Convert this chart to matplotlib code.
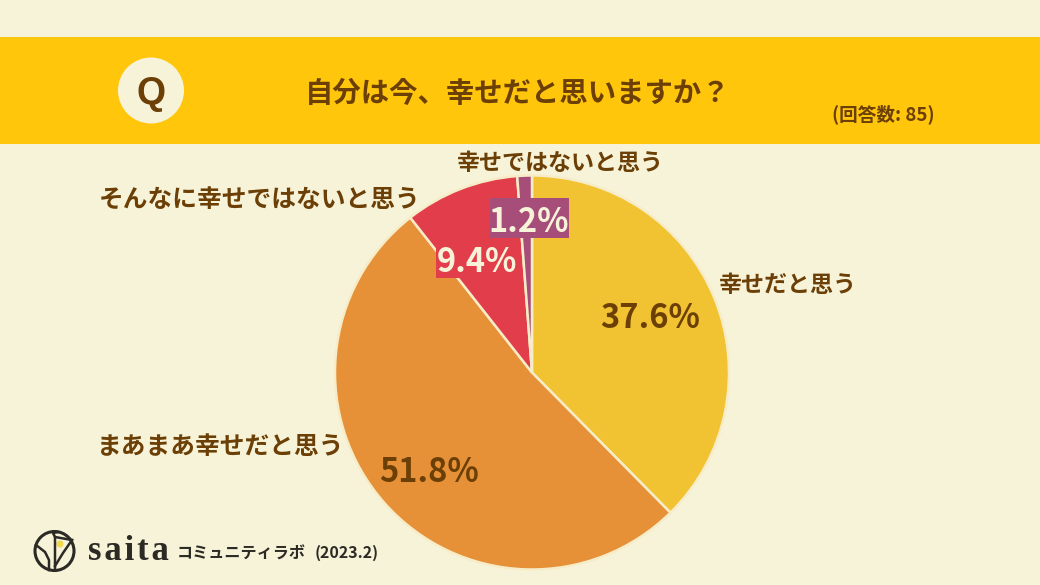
import matplotlib
matplotlib.use("Agg")
import matplotlib.pyplot as plt
from matplotlib.patches import Circle, Rectangle

plt.rcParams['font.family'] = ['Noto Sans CJK JP', 'DejaVu Sans']

# chart data
categories = ["幸せだと思う", "まあまあ幸せだと思う", "そんなに幸せではないと思う", "幸せではないと思う"]
shares = [37.6, 51.8, 9.4, 1.2]
slice_colors = ["#f1c232", "#e69138", "#e23d4a", "#a64d79"]
pct_labels = ["37.6%", "51.8%", "9.4%", "1.2%"]
question = "自分は今、幸せだと思いますか？"
n_answers = "(回答数: 85)"

BG = "#f7f3d9"
BAND = "#ffc60b"
BROWN = "#6b3f06"
DARK = "#2b2a24"

fig = plt.figure(figsize=(10.4, 5.85), dpi=100, facecolor=BG)

# overlay in pixel coordinates
bg = fig.add_axes([0, 0, 1, 1])
bg.set_xlim(0, 1040)
bg.set_ylim(585, 0)
bg.axis("off")
bg.add_patch(Rectangle((0, 37), 1040, 107, fc=BAND, ec="none"))
bg.add_patch(Circle((151, 90.5), 33, fc=BG, ec="none"))
bg.text(151, 94, "Q", ha="center", va="center", fontsize=27, weight="bold",
        color=BROWN, family=["Liberation Sans"])
bg.text(518, 94, question, ha="center", va="center", fontsize=20.4, weight="bold", color=BROWN)
bg.text(883, 114, n_answers, ha="center", va="center", fontsize=13.4, weight="bold", color=BROWN)

# pie
cx, cy, r = 532, 372.5, 197
pie_ax = fig.add_axes([(cx - r) / 1040, 1 - (cy + r) / 585, 2 * r / 1040, 2 * r / 585])
pie_ax.pie(shares, colors=slice_colors, startangle=90, counterclock=False, radius=1,
           wedgeprops=dict(edgecolor="#f7ecc8", linewidth=1.8), frame=False)
pie_ax.set_xlim(-1, 1)
pie_ax.set_ylim(-1, 1)

# top layer for the labels
top = fig.add_axes([0, 0, 1, 1])
top.set_xlim(0, 1040)
top.set_ylim(585, 0)
top.axis("off")
top.patch.set_alpha(0)

name_pos = [(788, 286), (221, 447), (260, 200), (560, 164)]
name_sizes = [16.6, 17.8, 17.8, 16.6]
for name, (x, y), size in zip(categories, name_pos, name_sizes):
    top.text(x, y, name, ha="center", va="center", fontsize=size, weight="bold", color=BROWN)

# small slices get a coloured box behind the number
top.add_patch(Rectangle((436, 241), 82, 37, fc=slice_colors[2], ec="none"))
top.add_patch(Rectangle((490, 198), 79, 40, fc=slice_colors[3], ec="none"))

pct_pos = [(650, 318), (429, 472), (477, 262), (529, 222)]
pct_colors = [BROWN, BROWN, BG, BG]
for i, (x, y) in enumerate(pct_pos):
    top.text(x, y, pct_labels[i], ha="center", va="center", fontsize=23.5, weight="bold",
             color=pct_colors[i])

# saita logo
top.add_patch(Circle((54.5, 551), 19.5, fc="none", ec=DARK, lw=2.2))
top.add_patch(Circle((60, 544), 3.5, fc="#f1d84a", ec="none"))
top.plot([55, 55, 72], [570, 537, 540], color=DARK, lw=1.8)
top.plot([55, 63, 72], [566, 553, 540], color=DARK, lw=1.8)
top.plot([36, 45, 49, 49], [545, 552, 560, 570], color=DARK, lw=1.8)
top.plot([55, 53, 58], [537, 533, 532], color=DARK, lw=1.8)
top.text(128, 552, "s\u200aa\u200ai\u200at\u200aa", ha="center", va="center", fontsize=25, weight="bold",
         color=DARK, family=["Liberation Serif", "DejaVu Sans"])
top.text(241, 554, "コミュニティラボ", ha="center", va="center", fontsize=11.6, weight="bold", color=DARK)
top.text(347, 553, "(2023.2)", ha="center", va="center", fontsize=11.5, weight="bold", color=DARK)

fig.savefig("out.png", dpi=100, facecolor=BG)
